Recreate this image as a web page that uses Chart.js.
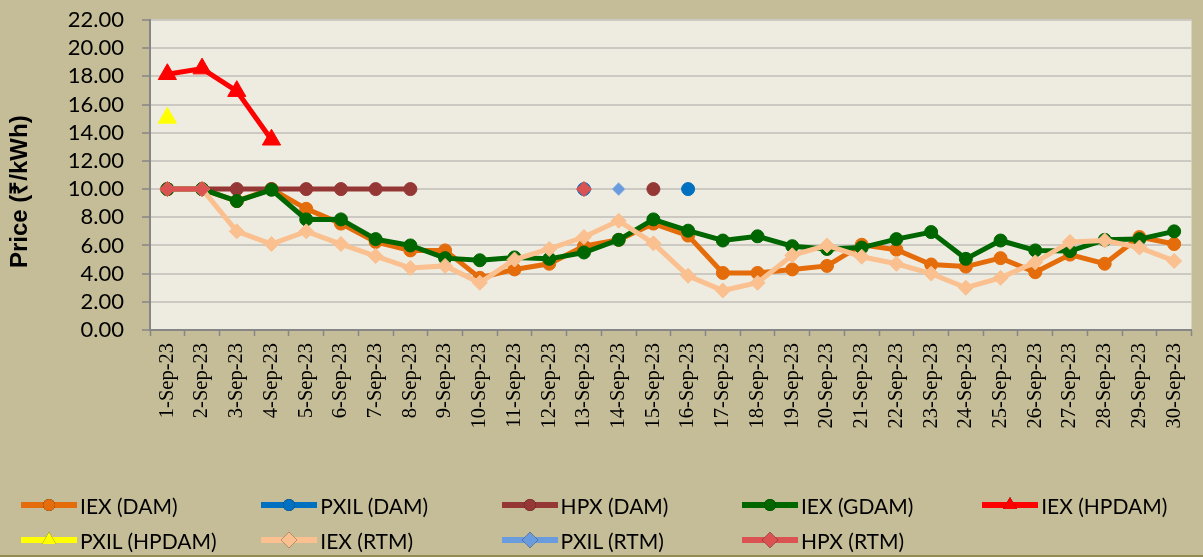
<!DOCTYPE html>
<html>
<head>
<meta charset="utf-8">
<script src="https://cdn.jsdelivr.net/npm/chart.js@4"></script>
<style>
  body { margin: 0; background: #C4BD97; }
  #wrap { position: relative; width: 1203px; height: 557px; overflow: hidden; }
  #wrap:after { content: ""; position: absolute; left: 0; right: 0; bottom: 0; height: 2px; background: #948A54; }
  #legend { position: absolute; left: 0; top: 0; width: 1203px; height: 557px; pointer-events: none;
            font-family: Lato, "Noto Sans", sans-serif; font-size: 21px; color: #000; }
  .item { position: absolute; display: flex; align-items: center; height: 30px; white-space: nowrap; }
  .item canvas { margin-right: 3px; }
</style>
</head>
<body>
<div id="wrap">
  <canvas id="priceChart" width="1203" height="557"></canvas>
  <div id="legend"></div>
</div>
<script>
// dates on the x axis
var days = ['1-Sep-23', '2-Sep-23', '3-Sep-23', '4-Sep-23', '5-Sep-23', '6-Sep-23', '7-Sep-23', '8-Sep-23',
  '9-Sep-23', '10-Sep-23', '11-Sep-23', '12-Sep-23', '13-Sep-23', '14-Sep-23', '15-Sep-23', '16-Sep-23',
  '17-Sep-23', '18-Sep-23', '19-Sep-23', '20-Sep-23', '21-Sep-23', '22-Sep-23', '23-Sep-23', '24-Sep-23',
  '25-Sep-23', '26-Sep-23', '27-Sep-23', '28-Sep-23', '29-Sep-23', '30-Sep-23'];

// prices in Rs/kWh, null = no trade that day
var iexDam = [10, 10, 9.15, 10, 8.6, 7.55, 6.25, 5.65, 5.65, 3.7, 4.3, 4.7, 5.95, 6.4, 7.55,
  6.7, 4.05, 4.05, 4.3, 4.55, 6.05, 5.7, 4.65, 4.5, 5.1, 4.1, 5.35, 4.7, 6.6, 6.1];
var pxilDam = [null, null, null, null, null, null, null, null, null, null, null, null, 10, null, null,
  10, null, null, null, null, null, null, null, null, null, null, null, null, null, null];
var hpxDam = [10, 10, 10, 10, 10, 10, 10, 10, null, null, null, null, null, null, 10,
  null, null, null, null, null, null, null, null, null, null, null, null, null, null, null];
var iexGdam = [10, 10, 9.15, 9.95, 7.85, 7.85, 6.45, 6.0, 5.1, 4.95, 5.15, 5.05, 5.5, 6.4, 7.85,
  7.05, 6.35, 6.65, 5.95, 5.75, 5.85, 6.45, 6.95, 5.05, 6.35, 5.65, 5.6, 6.4, 6.45, 7.0];
var iexHpdam = [18.15, 18.55, 16.95, 13.5];
var pxilHpdam = [15.05];
var iexRtm = [10, 10, 7.0, 6.1, 7.0, 6.1, 5.25, 4.4, 4.55, 3.35, 5.0, 5.75, 6.6, 7.75, 6.15,
  3.85, 2.8, 3.35, 5.3, 6.0, 5.2, 4.7, 4.0, 3.0, 3.7, 4.8, 6.25, 6.35, 5.85, 4.9];
var pxilRtm = [null, null, null, null, null, null, null, null, null, null, null, null, null, 10, null,
  null, null, null, null, null, null, null, null, null, null, null, null, null, null, null];
var hpxRtm = [10, 10, null, null, null, null, null, null, null, null, null, null, 10, null, null,
  null, null, null, null, null, null, null, null, null, null, null, null, null, null, null];

var yTicks = { min: 0, max: 22, step: 2 };

function series(label, data, color, style, radius, idx, pointBorder) {
  return {
    label: label,
    data: data,
    borderColor: color,
    backgroundColor: color,
    borderWidth: 5,
    pointStyle: style,
    pointRadius: radius,
    pointHoverRadius: radius,
    pointBorderColor: pointBorder || color,
    pointBorderWidth: 1,
    spanGaps: false,
    tension: 0,
    order: 20 - idx   // later series sit on top, like the original
  };
}

var datasets = [
  series('IEX (DAM)', iexDam, '#E46C0A', 'circle', 6.5, 0),
  series('PXIL (DAM)', pxilDam, '#0070C0', 'circle', 6.5, 1),
  series('HPX (DAM)', hpxDam, '#953735', 'circle', 6.5, 2),
  series('IEX (GDAM)', iexGdam, '#006600', 'circle', 6.5, 3),
  series('IEX (HPDAM)', iexHpdam, '#FF0000', 'triangle', 10.5, 4),
  series('PXIL (HPDAM)', pxilHpdam, '#FFFF00', 'triangle', 10.5, 5),
  series('IEX (RTM)', iexRtm, '#FAC090', 'rectRot', 7.5, 6),
  series('PXIL (RTM)', pxilRtm, '#6A9BDC', 'rectRot', 6.5, 7, '#9DBDE8'),
  series('HPX (RTM)', hpxRtm, '#DA5252', 'rectRot', 7.5, 8)
];

var plotBg = {
  id: 'plotBg',
  beforeDraw: function (chart) {
    var a = chart.chartArea, c = chart.ctx;
    c.save();
    c.fillStyle = '#EEECE1';
    c.fillRect(a.left, a.top, a.right - a.left, a.bottom - a.top);
    c.restore();
  }
};

var ctx = document.getElementById('priceChart').getContext('2d');
var priceChart = new Chart(ctx, {
  type: 'line',
  data: { labels: days, datasets: datasets },
  plugins: [plotBg],
  options: {
    responsive: false,
    animation: false,
    layout: { padding: { top: 20, right: 0, left: 0, bottom: 0 } },
    plugins: { legend: { display: false }, tooltip: { enabled: false } },
    scales: {
      x: {
        offset: true,
        grid: { offset: true, drawOnChartArea: false, drawTicks: true, tickLength: 6, tickColor: '#868686', tickWidth: 1.5 },
        border: { color: '#868686', width: 2 },
        ticks: {
          autoSkip: false, minRotation: 90, maxRotation: 90, padding: 7, color: '#000',
          font: { family: '"Liberation Serif", "Times New Roman", serif', size: 20.5 }
        },
        afterFit: function (s) { s.height = 557 - 330; s.paddingLeft = 0; s.paddingRight = 0; }
      },
      y: {
        min: yTicks.min,
        max: yTicks.max,
        grid: { color: '#CBC9C1', lineWidth: 2, tickLength: 8, tickColor: '#868686', tickWidth: 1.5 },
        border: { color: '#868686', width: 2 },
        ticks: {
          stepSize: yTicks.step, autoSkip: false, padding: 18, color: '#000',
          font: { family: 'Lato, "Noto Sans", sans-serif', size: 22 },
          callback: function (v) { return v.toFixed(2); }
        },
        title: {
          display: true, text: 'Price (₹/kWh)     ', color: '#000',
          font: { family: '"Liberation Sans", Arial, sans-serif', size: 24, weight: 'bold' },
          padding: { top: 6, bottom: 0 }
        },
        afterFit: function (s) { s.width = 150; s.paddingTop = 0; s.paddingBottom = 0; }
      }
    }
  }
});

// legend laid out in a 5 column grid like the original
function drawMarker(c, ds) {
  var g = c.getContext('2d');
  var cy = c.height / 2, cx = c.width / 2;
  g.strokeStyle = ds.borderColor;
  g.lineWidth = 6;
  g.beginPath(); g.moveTo(0, cy); g.lineTo(c.width, cy); g.stroke();
  Chart.helpers.drawPoint(g, {
    pointStyle: ds.pointStyle, radius: ds.pointStyle === 'circle' ? 6 : 8, rotation: 0, borderWidth: 0
  }, cx, cy);
  g.fillStyle = ds.backgroundColor;
  g.fill();
}

var legendBox = document.getElementById('legend');
priceChart.data.datasets.forEach(function (ds, i) {
  var col = i % 5, row = Math.floor(i / 5);
  var item = document.createElement('div');
  item.className = 'item';
  item.style.left = (21 + col * 240.3) + 'px';
  item.style.top = (row === 0 ? 490 : 525) + 'px';
  var c = document.createElement('canvas');
  c.width = 56; c.height = 24;
  drawMarker(c, ds);
  item.appendChild(c);
  var t = document.createElement('span');
  t.textContent = ds.label;
  item.appendChild(t);
  legendBox.appendChild(item);
});
</script>
</body>
</html>
